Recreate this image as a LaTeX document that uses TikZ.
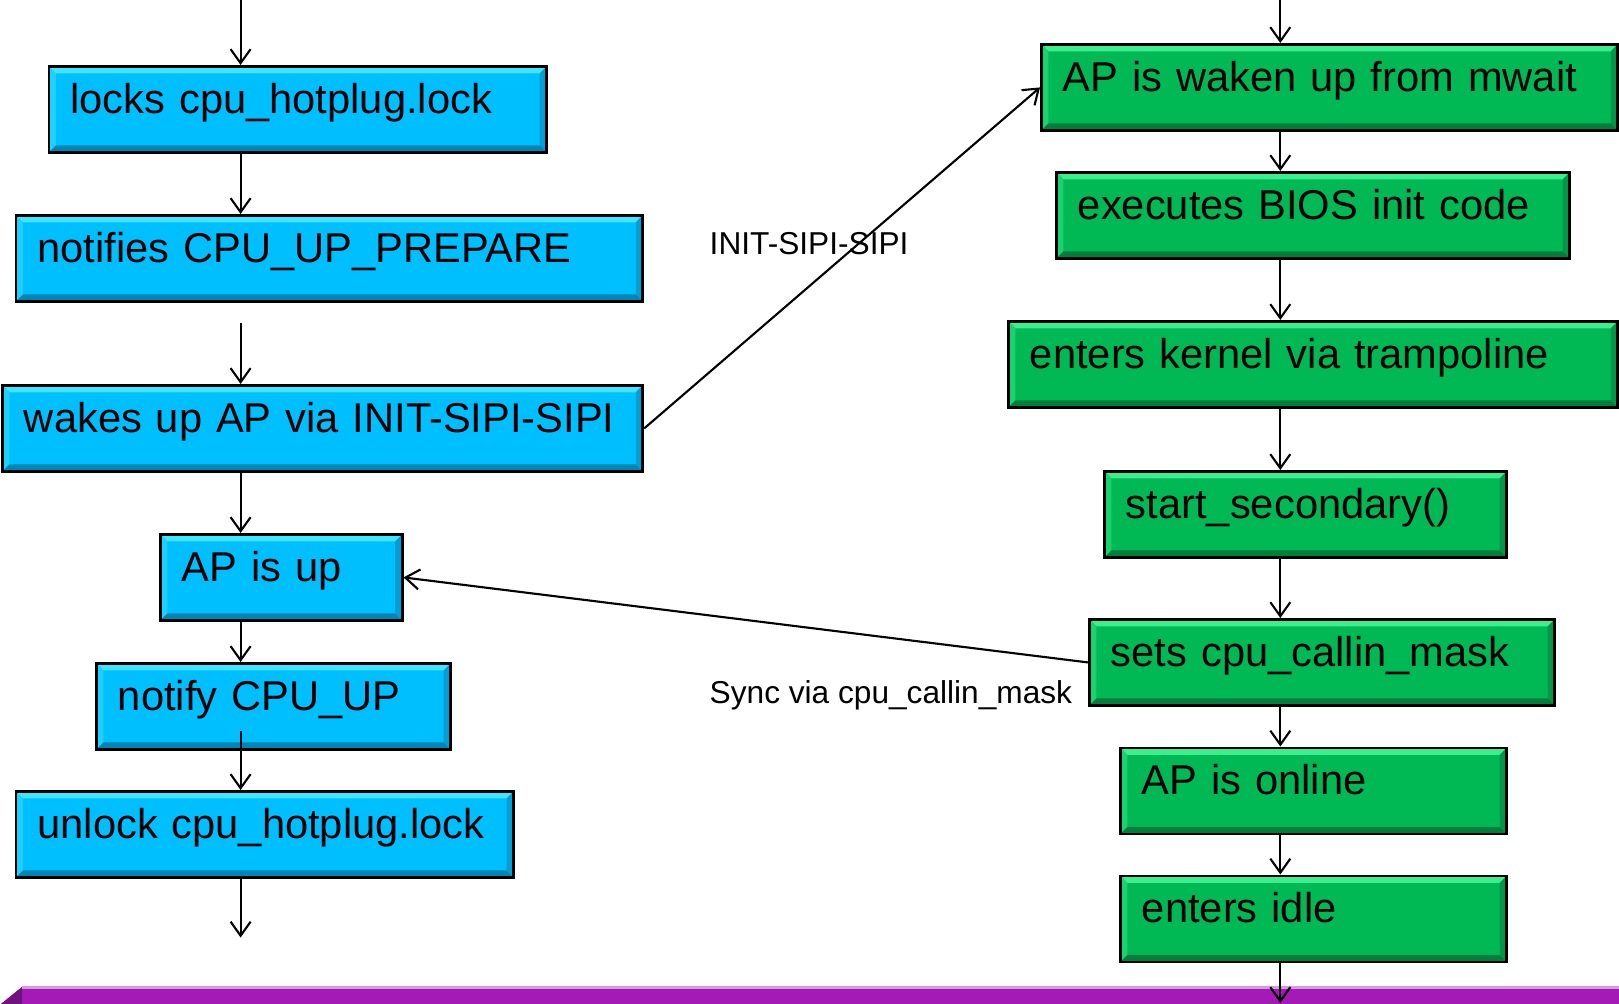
\documentclass[tikz,border=0pt]{standalone}
\usepackage{fontspec}
\setmainfont{Liberation Sans}
\usetikzlibrary{arrows.meta}
\definecolor{apblue}{HTML}{00BFFF}
\definecolor{apbluehi}{HTML}{40E6FF}
\definecolor{apbluelo}{HTML}{0085B5}
\definecolor{apgreen}{HTML}{00B955}
\definecolor{apgreenhi}{HTML}{3DEE8E}
\definecolor{apgreenlo}{HTML}{007E3A}
\definecolor{barpurple}{HTML}{A31AB6}
\newcommand\bevw{0.07cm}
\tikzset{
  bevel/.style n args={3}{fill=#1, path picture={
    \fill[#2] (path picture bounding box.north west) -- (path picture bounding box.north east)
      -- ([shift={(-\bevw,-\bevw)}]path picture bounding box.north east)
      -- ([shift={(\bevw,-\bevw)}]path picture bounding box.north west) -- cycle;
    \fill[#2!45!#1] (path picture bounding box.north west) -- (path picture bounding box.south west)
      -- ([shift={(\bevw,\bevw)}]path picture bounding box.south west)
      -- ([shift={(\bevw,-\bevw)}]path picture bounding box.north west) -- cycle;
    \fill[#3!55!#1] (path picture bounding box.north east) -- (path picture bounding box.south east)
      -- ([shift={(-\bevw,\bevw)}]path picture bounding box.south east)
      -- ([shift={(-\bevw,-\bevw)}]path picture bounding box.north east) -- cycle;
    \fill[#3] (path picture bounding box.south west) -- (path picture bounding box.south east)
      -- ([shift={(-\bevw,\bevw)}]path picture bounding box.south east)
      -- ([shift={(\bevw,\bevw)}]path picture bounding box.south west) -- cycle;
  }}
}
\begin{document}
\begin{tikzpicture}[x=0.01cm, y=-0.01cm]
\tikzstyle{box}=[draw=black, line width=0.8pt, anchor=north west, align=left, inner xsep=0.215cm, inner ysep=0pt, text height=0.466cm, text depth=0.394cm, font=\fontsize{11.85}{14}\selectfont]
\tikzstyle{bluebox}=[box, bevel={apblue}{apbluehi}{apbluelo}]
\tikzstyle{greenbox}=[box, bevel={apgreen}{apgreenhi}{apgreenlo}]
\tikzstyle{flow}=[-{Straight Barb[length=0.14cm,width=0.2cm]}, line width=0.6pt]
\tikzstyle{lbl}=[anchor=base west, inner sep=0pt, font=\fontsize{9}{11}\selectfont]
\useasboundingbox (0,0) rectangle (1619,1004);
\fill[barpurple] (1,1004) -- (22,987) -- (1619,987) -- (1619,1004) -- cycle;
\fill[barpurple!70!black] (1,1004) -- (22,987) -- (22,1004) -- cycle;
\draw[barpurple!45!white, line width=0.6pt] (22,987.5) -- (1619,987.5);
\node[bluebox, text width=4.545cm] (lock) at (47.5,65) {locks cpu\_hotplug.lock};
\node[bluebox, text width=5.835cm] (prep) at (14.5,214) {notifies CPU\_UP\_PREPARE};
\node[bluebox, text width=5.97cm] (wake) at (1,384) {\mbox{wakes up AP via INIT-SIPI-SIPI}};
\node[bluebox, text width=1.986cm] (apup) at (159,533) {AP is up};
\node[bluebox, text width=3.11cm] (cpuup) at (95,662) {notify CPU\_UP};
\node[bluebox, text width=4.545cm] (unlock) at (14.5,790) {unlock cpu\_hotplug.lock};
\node[greenbox, text width=5.33cm] (mwait) at (1040,43) {AP is waken up from mwait};
\node[greenbox, text width=4.70cm] (bios) at (1055,171) {executes BIOS init code};
\node[greenbox, text width=5.66cm] (tramp) at (1007,320) {enters kernel via trampoline};
\node[greenbox, text width=3.59cm] (second) at (1103,470) {start\_secondary()};
\node[greenbox, text width=4.22cm] (callin) at (1088,618) {sets cpu\_callin\_mask};
\node[greenbox, text width=3.43cm] (online) at (1119,746.5) {AP is online};
\node[greenbox, text width=3.43cm] (idle) at (1119,874.5) {enters idle};
\node[lbl] (isilbl) at (709,255) {INIT-SIPI-SIPI};
\node[lbl] (synclbl) at (709,703) {Sync via cpu\_callin\_mask};
\coordinate (ltop) at (240.6,0);
\coordinate (lend) at (240.6,937.5);
\coordinate (rtop) at (1280.3,0);
\coordinate (rend) at (1280.3,1003);
\draw[flow] (ltop) -- (lock.north -| ltop);
\draw[flow] (lock.south -| ltop) -- (prep.north -| ltop);
\draw[flow, shorten <=0.205cm] (prep.south -| ltop) -- (wake.north -| ltop);
\draw[flow] (wake.south -| ltop) -- (apup.north -| ltop);
\draw[flow] (apup.south -| ltop) -- (cpuup.north -| ltop);
\draw[flow, shorten <=-0.195cm] (cpuup.south -| ltop) -- (unlock.north -| ltop);
\draw[flow] (unlock.south -| lend) -- (lend);
\draw[flow] (rtop) -- (mwait.north -| rtop);
\draw[flow] (mwait.south -| rtop) -- (bios.north -| rtop);
\draw[flow] (bios.south -| rtop) -- (tramp.north -| rtop);
\draw[flow] (tramp.south -| rtop) -- (second.north -| rtop);
\draw[flow] (second.south -| rtop) -- (callin.north -| rtop);
\draw[flow] (callin.south -| rtop) -- (online.north -| rtop);
\draw[flow] (online.south -| rtop) -- (idle.north -| rtop);
\draw[flow] (idle.south -| rend) -- (rend);
\draw[flow] (wake.east) -- (mwait.west);
\draw[flow] (callin.west) -- (apup.east);
\end{tikzpicture}
\end{document}
